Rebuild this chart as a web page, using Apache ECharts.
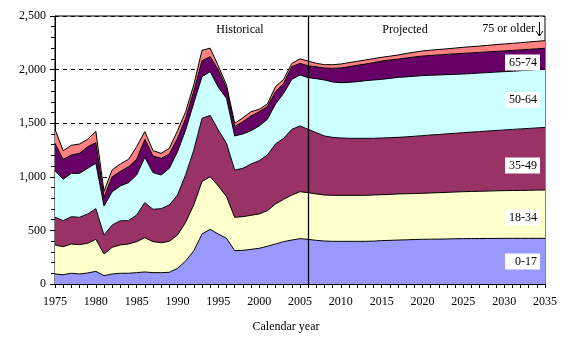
<!DOCTYPE html>
<html>
<head>
<meta charset="utf-8">
<script src="https://cdn.jsdelivr.net/npm/echarts@6/dist/echarts.min.js"></script>
<style>html,body{margin:0;padding:0;background:#fff;}#c{width:575px;height:363px;}</style>
</head>
<body>
<div id="c"></div>
<script>
const years = ['1975','1976','1977','1978','1979','1980','1981','1982','1983','1984','1985','1986','1987','1988','1989','1990','1991','1992','1993','1994','1995','1996','1997','1998','1999','2000','2001','2002','2003','2004','2005','2006','2007','2008','2009','2010','2011','2012','2013','2014','2015','2016','2017','2018','2019','2020','2021','2022','2023','2024','2025','2026','2027','2028','2029','2030','2031','2032','2033','2034','2035'];
const yTicks = [0, 500, 1000, 1500, 2000, 2500];
const ageGroups = ['0-17', '18-34', '35-49', '50-64', '65-74', '75 or older'];

const age0to17 = [93,87,100,93,103,118,78,93,100,100,106,112,106,106,109,146,215,310,466,510,466,426,311,314,323,333,352,373,395,410,423,417,407,401,398,398,398,398,398,400,405,407,410,412,415,417,418,419,420,422,423,424,424,425,425,426,426,426,426,426,426];
const age18to34 = [271,261,273,274,277,299,202,249,264,273,289,320,289,279,289,311,360,430,489,491,448,389,311,314,318,320,332,373,395,420,438,435,433,429,429,429,429,429,429,430,428,429,430,430,429,429,431,433,435,436,438,439,441,442,444,445,446,447,448,450,451];
const age35to49 = [258,243,255,255,273,286,177,208,226,218,249,327,302,318,339,373,445,510,590,572,523,497,441,451,478,497,519,560,569,613,613,591,572,551,541,535,532,532,532,529,529,529,528,531,534,538,541,543,546,548,551,554,557,560,563,566,570,574,577,580,584];
const age50to64 = [435,386,404,410,426,423,271,310,325,354,373,423,342,314,342,404,417,440,389,408,398,420,318,321,311,324,333,373,420,466,476,482,503,522,516,516,522,528,538,544,547,553,560,559,560,560,557,555,552,550,547,546,546,545,545,544,543,543,543,543,542];
const age65to74 = [255,186,171,187,202,192,81,140,135,149,146,168,155,155,134,125,108,110,149,140,161,94,87,114,137,133,118,115,93,118,108,110,112,112,128,137,146,153,155,162,171,172,170,176,180,183,185,187,189,191,193,193,193,193,193,193,194,194,195,195,196];
const age75plus = [131,81,91,87,69,106,56,65,70,69,118,71,50,47,53,71,62,60,97,79,38,30,31,36,40,22,25,47,37,31,42,45,31,31,34,37,38,37,38,37,35,35,38,42,44,47,49,51,52,54,56,58,59,61,63,65,66,67,69,70,71];

const seriesData = [age0to17, age18to34, age35to49, age50to64, age65to74, age75plus];
const colors = ['#9999FF', '#FFFFCC', '#993366', '#CCFFFF', '#660066', '#FF8080'];
const FONT = '"Liberation Serif", "Times New Roman", serif';

const chart = echarts.init(document.getElementById('c'), null, {renderer: 'canvas'});

const series = ageGroups.map((name, i) => {
  const s = {
    name: name,
    type: 'line',
    stack: 'total',
    data: seriesData[i],
    symbol: 'none',
    lineStyle: {color: '#000', width: 1},
    areaStyle: {color: colors[i], opacity: 1},
    itemStyle: {color: colors[i]},
    silent: true,
    animation: false
  };
  if (i === ageGroups.length - 1) {
    s.markLine = {
      silent: true,
      symbol: ['none', 'none'],
      label: {show: false},
      lineStyle: {color: '#000', width: 1.3, type: 'solid'},
      data: [{xAxis: '2006'}],
      animation: false
    };
  }
  return s;
});

function boxLabel(text, cy) {
  return {
    type: 'group',
    z: 100,
    children: [
      {type: 'rect', z: 100, shape: {x: 505, y: cy - 8, width: 35, height: 16}, style: {fill: '#fff'}},
      {type: 'text', z: 101, style: {text: text, x: 537, y: cy, align: 'right', verticalAlign: 'middle', font: '12px ' + FONT, fill: '#000'}}
    ]
  };
}

chart.setOption({
  animation: false,
  backgroundColor: '#fff',
  grid: {left: 55, right: 30, top: 16, bottom: 79, show: true, borderColor: '#000', borderWidth: 1, backgroundColor: 'transparent'},
  xAxis: {
    type: 'category',
    data: years,
    boundaryGap: false,
    axisLine: {lineStyle: {color: '#000', width: 1}},
    axisTick: {show: true, interval: 0, length: 4, lineStyle: {color: '#000'}},
    axisLabel: {interval: 4, color: '#000', fontFamily: FONT, fontSize: 12, margin: 12},
    splitLine: {show: false}
  },
  yAxis: {
    type: 'value',
    min: yTicks[0],
    max: yTicks[yTicks.length - 1],
    interval: 500,
    axisLine: {show: true, lineStyle: {color: '#000', width: 1}},
    axisTick: {show: true, length: 5, lineStyle: {color: '#000'}},
    minorTick: {show: true, splitNumber: 5, length: 4, lineStyle: {color: '#000'}},
    axisLabel: {color: '#000', fontFamily: FONT, fontSize: 12, margin: 9,
      formatter: v => v.toLocaleString('en-US')},
    splitLine: {show: true, lineStyle: {color: '#000', type: [4, 4], width: 1}}
  },
  series: series,
  graphic: [
    {type: 'text', z: 100, style: {text: 'Historical', x: 240, y: 30, align: 'center', verticalAlign: 'middle', font: '12px ' + FONT, fill: '#000'}},
    {type: 'text', z: 100, style: {text: 'Projected', x: 405, y: 30, align: 'center', verticalAlign: 'middle', font: '12px ' + FONT, fill: '#000'}},
    {type: 'text', z: 100, style: {text: '75 or older', x: 535, y: 29, align: 'right', verticalAlign: 'middle', font: '12px ' + FONT, fill: '#000'}},
    {type: 'line', z: 100, shape: {x1: 539.5, y1: 22, x2: 539.5, y2: 36}, style: {stroke: '#000', lineWidth: 1}},
    {type: 'polyline', z: 100, shape: {points: [[536, 31], [539.5, 36], [543, 31]]}, style: {stroke: '#000', lineWidth: 1, fill: null}},
    {type: 'text', z: 100, style: {text: 'Calendar year', x: 286, y: 327, align: 'center', verticalAlign: 'middle', font: '12px ' + FONT, fill: '#000'}},
    boxLabel('65-74', 62.5),
    boxLabel('50-64', 100),
    boxLabel('35-49', 165.5),
    boxLabel('18-34', 217.5),
    boxLabel('0-17', 261.5)
  ]
});
</script>
</body>
</html>
